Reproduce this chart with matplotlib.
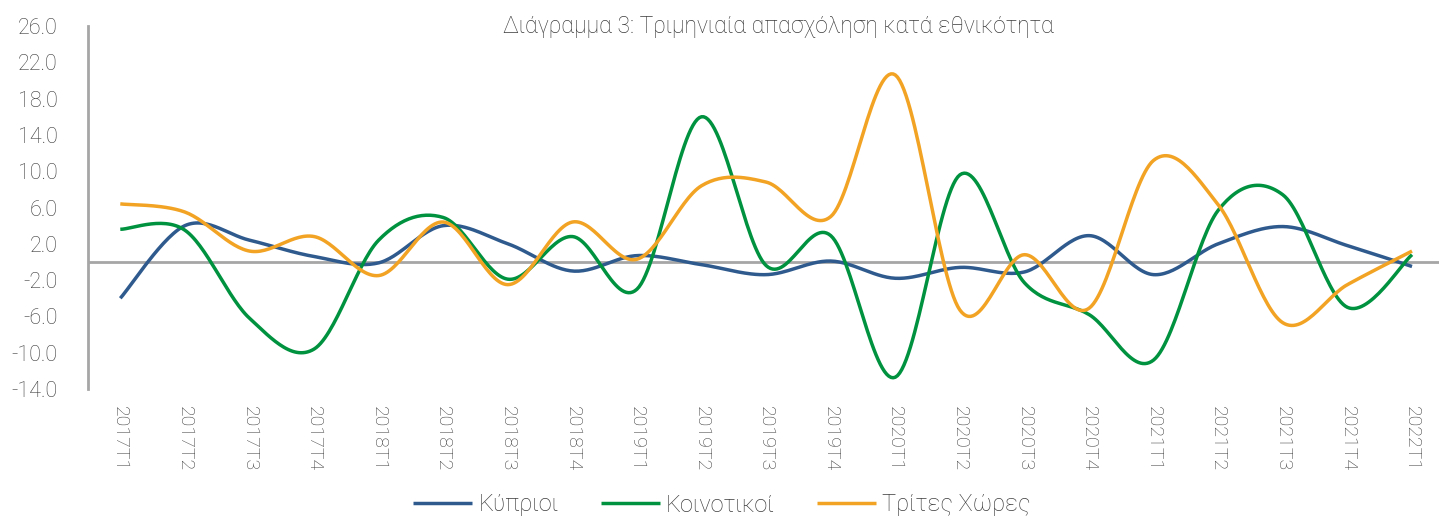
"""Quarterly employment by nationality, smoothed line chart."""

import matplotlib

matplotlib.use("Agg")
import matplotlib.pyplot as plt
import numpy as np

quarters = [
    "2017T1", "2017T2", "2017T3", "2017T4",
    "2018T1", "2018T2", "2018T3", "2018T4",
    "2019T1", "2019T2", "2019T3", "2019T4",
    "2020T1", "2020T2", "2020T3", "2020T4",
    "2021T1", "2021T2", "2021T3", "2021T4",
    "2022T1",
]
cypriots = [-4.0, 4.0, 2.4, 0.6, -0.1, 4.0, 2.0, -1.0, 0.7, -0.3, -1.4,
            0.1, -1.8, -0.6, -1.1, 2.9, -1.4, 2.0, 3.9, 1.8, -0.5]
eu = [3.6, 3.5, -6.2, -9.6, 2.4, 4.9, -1.9, 2.8, -3.0, 16.0, -0.4,
      2.9, -12.7, 9.6, -2.3, -5.8, -10.8, 5.7, 7.4, -5.0, 0.8]
third = [6.4, 5.5, 1.2, 2.8, -1.5, 4.4, -2.5, 4.4, 0.3, 8.4, 8.8,
         5.0, 20.6, -5.3, 0.8, -5.1, 11.2, 6.3, -6.7, -2.5, 1.2]

series = [
    ("Κύπριοι", cypriots, "#2E5A8E"),
    ("Κοινοτικοί", eu, "#00923F"),
    ("Τρίτες Χώρες", third, "#F2A323"),
]


def smooth(x, y, n=30):
    # Catmull-Rom style smoothing (like spreadsheet "smoothed line")
    x = np.asarray(x, float)
    y = np.asarray(y, float)
    px = np.concatenate([[x[0]], x, [x[-1]]])
    py = np.concatenate([[y[0]], y, [y[-1]]])
    xs, ys = [], []
    t = np.linspace(0, 1, n, endpoint=False)
    for i in range(1, len(px) - 2):
        p0, p1, p2, p3 = py[i - 1], py[i], py[i + 1], py[i + 2]
        q0, q1, q2, q3 = px[i - 1], px[i], px[i + 1], px[i + 2]
        c1y = p1 + (p2 - p0) / 6
        c2y = p2 - (p3 - p1) / 6
        c1x = q1 + (q2 - q0) / 6
        c2x = q2 - (q3 - q1) / 6
        b = [(1 - t) ** 3, 3 * (1 - t) ** 2 * t, 3 * (1 - t) * t ** 2, t ** 3]
        xs.append(b[0] * q1 + b[1] * c1x + b[2] * c2x + b[3] * q2)
        ys.append(b[0] * p1 + b[1] * c1y + b[2] * c2y + b[3] * p2)
    xs.append([x[-1]])
    ys.append([y[-1]])
    return np.concatenate(xs), np.concatenate(ys)


plt.rcParams["font.family"] = ["Roboto", "DejaVu Sans"]
text_col = "#3C3C3C"

fig = plt.figure(figsize=(14.39, 5.18), dpi=100)
ax = fig.add_axes([88 / 1439, 1 - 389 / 518, 1 - 88 / 1439, (389 - 26) / 518])

x = np.arange(len(quarters))
for label, vals, col in series:
    sx, sy = smooth(x, vals)
    ax.plot(sx, sy, color=col, lw=2.5, label=label, solid_capstyle="butt")

ax.axhline(0, color="#A6A6A6", lw=2, zorder=0)
ax.set_xlim(-0.5, (1439 - 120) / 64.6)
ax.set_ylim(-14, 26)
ax.set_yticks(np.arange(-14, 27, 4))
ax.set_yticklabels([f"{v:.1f}" for v in np.arange(-14, 27, 4)],
                   fontsize=15.5, color=text_col, fontweight="light")
ax.set_xticks(x)
ax.set_xticklabels(quarters, rotation=-90, fontsize=14, color=text_col,
                   fontweight="light")
ax.tick_params(axis="y", length=0, pad=22)
ax.tick_params(axis="x", length=0, pad=12)
for s in ["top", "right", "bottom"]:
    ax.spines[s].set_visible(False)
ax.spines["left"].set_color("#A6A6A6")
ax.spines["left"].set_linewidth(2)

fig.text(778 / 1439, 1 - 27 / 518, "Διάγραμμα 3: Τριμηνιαία απασχόληση κατά εθνικότητα",
         ha="center", va="center", fontsize=16.5, color=text_col, fontweight="light")

fig.legend(loc="center", bbox_to_anchor=(722 / 1439, 1 - 505 / 518), ncol=3,
           frameon=False, handlelength=2.5, columnspacing=1.8,
           handletextpad=0.25, labelcolor=text_col,
           prop={"weight": "light", "size": 17})

fig.savefig("out.png", dpi=100)
